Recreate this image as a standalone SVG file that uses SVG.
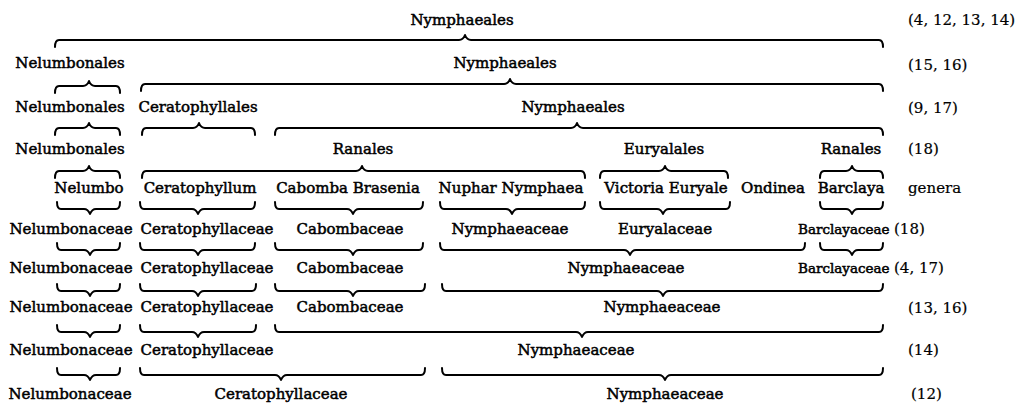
<svg xmlns="http://www.w3.org/2000/svg" width="1027" height="413" viewBox="0 0 1027 413">
<style>
text{font-family:"DejaVu Serif","Liberation Serif",serif;font-size:15px;fill:#000}
.n{text-anchor:middle;stroke:#000;stroke-width:0.5}
.s{text-anchor:start;stroke:#000;stroke-width:0.5;font-size:13.5px}
.r{text-anchor:start;stroke:#000;stroke-width:0.2}
.br{fill:none;stroke:#000;stroke-width:2;stroke-linecap:round;stroke-linejoin:round}
</style>
<rect width="1027" height="413" fill="#fff"/>
<g id="connectors" class="br">
<path d="M55 47 Q55 40 59 40 L459 40 Q463 40 465 35 Q467 40 471 40 L879 40 Q883 40 883 47"/>
<path d="M55 93 Q55 86 59 86 L83 86 Q87 86 89 81 Q91 86 95 86 L116 86 Q120 86 120 93"/>
<path d="M141 91 Q141 84 145 84 L504 84 Q508 84 510 79 Q512 84 516 84 L879 84 Q883 84 883 91"/>
<path d="M55 135 Q55 128 59 128 L83 128 Q87 128 89 123 Q91 128 95 128 L116 128 Q120 128 120 135"/>
<path d="M142 135 Q142 128 146 128 L193 128 Q197 128 199 123 Q201 128 205 128 L251 128 Q255 128 255 135"/>
<path d="M275 135 Q275 128 279 128 L571 128 Q575 128 577 123 Q579 128 583 128 L879 128 Q883 128 883 135"/>
<path d="M55 178 Q55 171 59 171 L83 171 Q87 171 89 166 Q91 171 95 171 L116 171 Q120 171 120 178"/>
<path d="M142 178 Q142 171 146 171 L356 171 Q360 171 362 166 Q364 171 368 171 L581 171 Q585 171 585 178"/>
<path d="M600 178 Q600 171 604 171 L659 171 Q663 171 665 166 Q667 171 671 171 L724 171 Q728 171 728 178"/>
<path d="M820 178 Q820 171 824 171 L846 171 Q850 171 852 166 Q854 171 858 171 L879 171 Q883 171 883 178"/>
<path d="M57 202 Q57 209 61 209 L84 209 Q88 209 90 214 Q92 209 96 209 L116 209 Q120 209 120 202"/>
<path d="M140 202 Q140 209 144 209 L192 209 Q196 209 198 214 Q200 209 204 209 L251 209 Q255 209 255 202"/>
<path d="M275 202 Q275 209 279 209 L347 209 Q351 209 353 214 Q355 209 359 209 L419 209 Q423 209 423 202"/>
<path d="M440 202 Q440 209 444 209 L506 209 Q510 209 512 214 Q514 209 518 209 L581 209 Q585 209 585 202"/>
<path d="M600 202 Q600 209 604 209 L657 209 Q661 209 663 214 Q665 209 669 209 L726 209 Q730 209 730 202"/>
<path d="M820 202 Q820 209 824 209 L846 209 Q850 209 852 214 Q854 209 858 209 L879 209 Q883 209 883 202"/>
<path d="M57 243 Q57 250 61 250 L84 250 Q88 250 90 255 Q92 250 96 250 L116 250 Q120 250 120 243"/>
<path d="M140 243 Q140 250 144 250 L192 250 Q196 250 198 255 Q200 250 204 250 L251 250 Q255 250 255 243"/>
<path d="M275 243 Q275 250 279 250 L347 250 Q351 250 353 255 Q355 250 359 250 L419 250 Q423 250 423 243"/>
<path d="M440 243 Q440 250 444 250 L624 250 Q628 250 630 255 Q632 250 636 250 L801 250 Q805 250 805 243"/>
<path d="M820 243 Q820 250 824 250 L846 250 Q850 250 852 255 Q854 250 858 250 L879 250 Q883 250 883 243"/>
<path d="M57 284 Q57 291 61 291 L84 291 Q88 291 90 296 Q92 291 96 291 L116 291 Q120 291 120 284"/>
<path d="M140 284 Q140 291 144 291 L192 291 Q196 291 198 296 Q200 291 204 291 L252 291 Q256 291 256 284"/>
<path d="M275 284 Q275 291 279 291 L347 291 Q351 291 353 296 Q355 291 359 291 L421 291 Q425 291 425 284"/>
<path d="M442 284 Q442 291 446 291 L657 291 Q661 291 663 296 Q665 291 669 291 L879 291 Q883 291 883 284"/>
<path d="M57 325 Q57 332 61 332 L84 332 Q88 332 90 337 Q92 332 96 332 L116 332 Q120 332 120 325"/>
<path d="M140 325 Q140 332 144 332 L192 332 Q196 332 198 337 Q200 332 204 332 L252 332 Q256 332 256 325"/>
<path d="M275 325 Q275 332 279 332 L576 332 Q580 332 582 337 Q584 332 588 332 L879 332 Q883 332 883 325"/>
<path d="M57 368 Q57 375 61 375 L84 375 Q88 375 90 380 Q92 375 96 375 L116 375 Q120 375 120 368"/>
<path d="M140 368 Q140 375 144 375 L275 375 Q279 375 281 380 Q283 375 287 375 L421 375 Q425 375 425 368"/>
<path d="M442 368 Q442 375 446 375 L659 375 Q663 375 665 380 Q667 375 671 375 L879 375 Q883 375 883 368"/>
</g>
<g id="row1">
<g id="r1-nymphaeales"><text class="n" x="462" y="25">Nymphaeales</text></g>
<g id="r1-ref"><text class="r" x="908" y="25">(4, 12, 13, 14)</text></g>
</g>
<g id="row2">
<g id="r2-nelumbonales"><text class="n" x="70" y="68">Nelumbonales</text></g>
<g id="r2-nymphaeales"><text class="n" x="505" y="68">Nymphaeales</text></g>
<g id="r2-ref"><text class="r" x="908" y="70">(15, 16)</text></g>
</g>
<g id="row3">
<g id="r3-nelumbonales"><text class="n" x="70" y="112">Nelumbonales</text></g>
<g id="r3-ceratophyllales"><text class="n" x="198" y="112">Ceratophyllales</text></g>
<g id="r3-nymphaeales"><text class="n" x="573" y="112">Nymphaeales</text></g>
<g id="r3-ref"><text class="r" x="908" y="113">(9, 17)</text></g>
</g>
<g id="row4">
<g id="r4-nelumbonales"><text class="n" x="70" y="154">Nelumbonales</text></g>
<g id="r4-ranales"><text class="n" x="363" y="154">Ranales</text></g>
<g id="r4-euryalales"><text class="n" x="664" y="154">Euryalales</text></g>
<g id="r4-ranales2"><text class="n" x="851" y="154">Ranales</text></g>
<g id="r4-ref"><text class="r" x="908" y="154">(18)</text></g>
</g>
<g id="row5">
<g id="g-nelumbo"><text class="n" x="89" y="193">Nelumbo</text></g>
<g id="g-ceratophyllum"><text class="n" x="200" y="193">Ceratophyllum</text></g>
<g id="g-cabomba"><text class="n" x="348" y="193">Cabomba Brasenia</text></g>
<g id="g-nuphar"><text class="n" x="511" y="193">Nuphar Nymphaea</text></g>
<g id="g-victoria"><text class="n" x="666" y="193">Victoria Euryale</text></g>
<g id="g-ondinea"><text class="n" x="773" y="193">Ondinea</text></g>
<g id="g-barclaya"><text class="n" x="851" y="193">Barclaya</text></g>
<g id="g-genera"><text class="r" x="908" y="193">genera</text></g>
</g>
<g id="row6">
<g id="r6-nelumbonaceae"><text class="n" x="71" y="234">Nelumbonaceae</text></g>
<g id="r6-ceratophyllaceae"><text class="n" x="207" y="234">Ceratophyllaceae</text></g>
<g id="r6-cabombaceae"><text class="n" x="350" y="234">Cabombaceae</text></g>
<g id="r6-nymphaeaceae"><text class="n" x="510" y="234">Nymphaeaceae</text></g>
<g id="r6-euryalaceae"><text class="n" x="665" y="234">Euryalaceae</text></g>
<g id="r6-barclayaceae"><text class="s" x="798" y="234">Barclayaceae</text><text class="r" x="894" y="234">(18)</text></g>
</g>
<g id="row7">
<g id="r7-nelumbonaceae"><text class="n" x="71" y="273">Nelumbonaceae</text></g>
<g id="r7-ceratophyllaceae"><text class="n" x="207" y="273">Ceratophyllaceae</text></g>
<g id="r7-cabombaceae"><text class="n" x="350" y="273">Cabombaceae</text></g>
<g id="r7-nymphaeaceae"><text class="n" x="626" y="273">Nymphaeaceae</text></g>
<g id="r7-barclayaceae"><text class="s" x="798" y="273">Barclayaceae</text><text class="r" x="894" y="273">(4, 17)</text></g>
</g>
<g id="row8">
<g id="r8-nelumbonaceae"><text class="n" x="71" y="312">Nelumbonaceae</text></g>
<g id="r8-ceratophyllaceae"><text class="n" x="207" y="312">Ceratophyllaceae</text></g>
<g id="r8-cabombaceae"><text class="n" x="350" y="312">Cabombaceae</text></g>
<g id="r8-nymphaeaceae"><text class="n" x="662" y="312">Nymphaeaceae</text></g>
<g id="r8-ref"><text class="r" x="908" y="313">(13, 16)</text></g>
</g>
<g id="row9">
<g id="r9-nelumbonaceae"><text class="n" x="71" y="355">Nelumbonaceae</text></g>
<g id="r9-ceratophyllaceae"><text class="n" x="207" y="355">Ceratophyllaceae</text></g>
<g id="r9-nymphaeaceae"><text class="n" x="576" y="355">Nymphaeaceae</text></g>
<g id="r9-ref"><text class="r" x="908" y="355">(14)</text></g>
</g>
<g id="row10">
<g id="r10-nelumbonaceae"><text class="n" x="70" y="399">Nelumbonaceae</text></g>
<g id="r10-ceratophyllaceae"><text class="n" x="281" y="399">Ceratophyllaceae</text></g>
<g id="r10-nymphaeaceae"><text class="n" x="665" y="399">Nymphaeaceae</text></g>
<g id="r10-ref"><text class="r" x="911" y="399">(12)</text></g>
</g>
</svg>
